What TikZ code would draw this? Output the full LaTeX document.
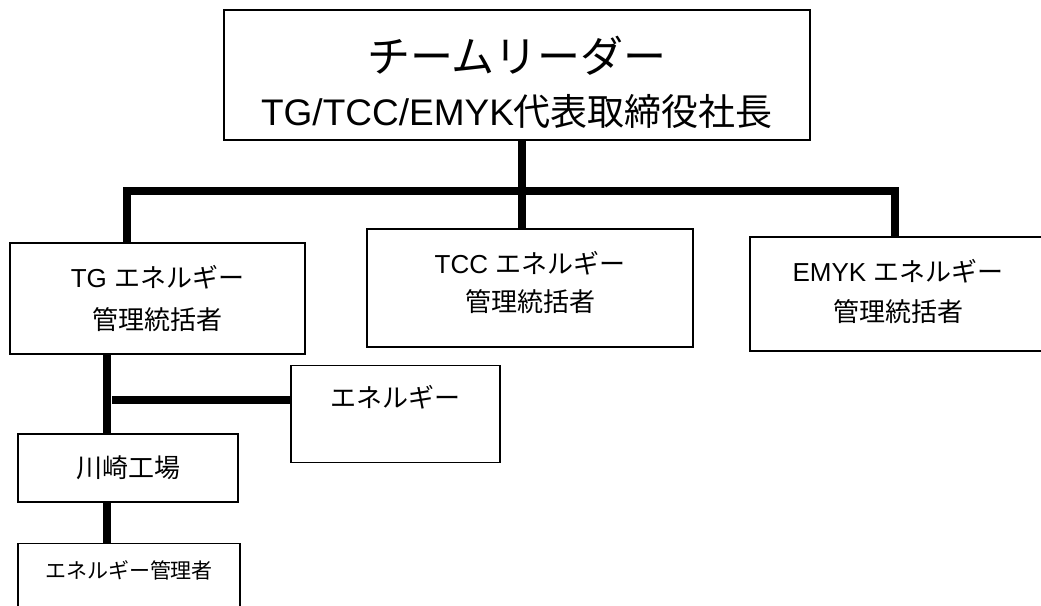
\documentclass[tikz,border=0pt]{standalone}
\usepackage{fontspec}
\setmainfont{Liberation Sans}
\newfontfamily\jp{Noto Sans CJK JP}
\usetikzlibrary{positioning}
\tikzset{
    every node/.style={inner sep=0pt},
    post/.style={
        draw,
        line width=1.4pt,
        align=center
    },
    bar/.style={line width=7.5pt,line join=miter}
}

\begin{document}
\begin{tikzpicture}[x=1pt,y=-1pt]
	\useasboundingbox (0,0) rectangle (1041,605);
	% boxes
	\node[post,minimum width=586pt,minimum height=130pt,font=\fontsize{37}{53}\selectfont] (leader) at (517,75)
		{{\jp\fontsize{43}{53}\selectfont\rule{0pt}{51pt}チームリーダー}\\TG/TCC/EMYK{\jp 代表取締役社長}};
	\node[post,minimum width=295pt,minimum height=111pt,font=\fontsize{26}{42}\selectfont] (tg) at (157.5,298.5)
		{TG {\jp エネルギー}\\{\jp 管理統括者}};
	\node[post,minimum width=326pt,minimum height=118pt,font=\fontsize{26}{38}\selectfont] (tcc) at (530,288)
		{TCC {\jp エネルギー}\\{\jp 管理統括者}\rule[-13pt]{0pt}{1pt}};
	\node[post,minimum width=296pt,minimum height=114pt,font=\fontsize{26}{40}\selectfont] (emyk) at (898,294)
		{EMYK {\jp エネルギー}\\{\jp 管理統括者}\rule[-8pt]{0pt}{1pt}};
	\node[post,anchor=north,minimum width=209pt,text height=42pt,text depth=55pt,font=\fontsize{26}{32}\selectfont] (energy) at (395.5,365)
		{\jp エネルギー};
	\node[post,minimum width=220pt,minimum height=68pt,font=\fontsize{26}{32}\selectfont] (kawasaki) at (128,468)
		{\jp 川崎工場};
	\node[post,anchor=north,minimum width=222pt,text height=35pt,text depth=60pt,font=\fontsize{21}{26}\selectfont] (mgr) at (129,543)
		{\jp エネルギー管理者};
	% connectors
	\coordinate (busL) at (127,191);
	\coordinate (busM) at (522,191);
	\coordinate (busR) at (895,191);
	\coordinate (trunk) at (107,0);
	\coordinate (branch) at (112,400);
	\draw[bar] (leader.south -| busM) -- (tcc.north -| busM);
	\draw[bar] (tg.north -| busL) |- (busR) -- (emyk.north -| busR);
	\draw[bar] (tg.south -| trunk) -- (kawasaki.north -| trunk);
	\draw[bar] (kawasaki.south -| trunk) -- (mgr.north -| trunk);
	\draw[bar] (branch) -- (energy.west |- branch);
\end{tikzpicture}
\end{document}
